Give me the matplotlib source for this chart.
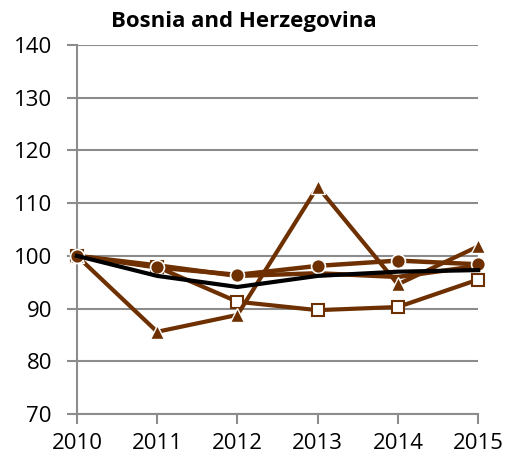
import matplotlib.pyplot as plt

plt.rcParams['font.family'] = ['Open Sans', 'DejaVu Sans']

years = [2010, 2011, 2012, 2013, 2014, 2015]
circles = [100, 97.8, 96.4, 98.1, 99.1, 98.4]
plain = [100, 98.2, 96.2, 96.7, 96.0, 98.1]
squares = [100, 97.9, 91.3, 89.7, 90.3, 95.5]
triangles = [100, 85.6, 88.8, 113.1, 94.6, 101.8]
average = [100, 96.2, 94.1, 96.2, 97.0, 97.3]

brown = '#6e3000'
grid_c = '#8c8c8c'

fig = plt.figure(figsize=(5.06, 4.59), dpi=100)
ax = fig.add_axes([0.152, 0.098, 0.793, 0.804])

ax.plot(years, plain, color=brown, lw=3.2, clip_on=False, zorder=3)
ax.plot(years, squares, color=brown, lw=3, marker='s', ms=8, mfc='white',
        mec=brown, mew=1.5, clip_on=False, zorder=4)
ax.plot(years, triangles, color=brown, lw=3, marker='^', ms=10, mfc=brown,
        mec='white', mew=1, clip_on=False, zorder=4)
ax.plot(years, circles, color=brown, lw=3.2, marker='o', ms=10, mfc=brown,
        mec='white', mew=1.2, clip_on=False, zorder=5)
ax.plot(years, average, color='black', lw=3, clip_on=False, zorder=6)

ax.set_xlim(2010, 2015)
ax.set_ylim(70, 140)
ax.set_xticks(years)
ax.set_yticks(range(70, 141, 10))
ax.yaxis.grid(True, color=grid_c, lw=1.5)
ax.set_axisbelow(True)
for s in ['top', 'right']:
    ax.spines[s].set_visible(False)
for s in ['left', 'bottom']:
    ax.spines[s].set_color(grid_c)
    ax.spines[s].set_linewidth(1.5)
ax.tick_params(axis='both', colors=grid_c, labelcolor='black', labelsize=16,
               length=7, width=1.5)
ax.tick_params(axis='y', pad=11)
ax.tick_params(axis='x', pad=7)

fig.text(0.482, 0.954, 'Bosnia and Herzegovina', ha='center', va='center',
         fontsize=16, fontweight='bold')

fig.savefig('out.png', dpi=100)
